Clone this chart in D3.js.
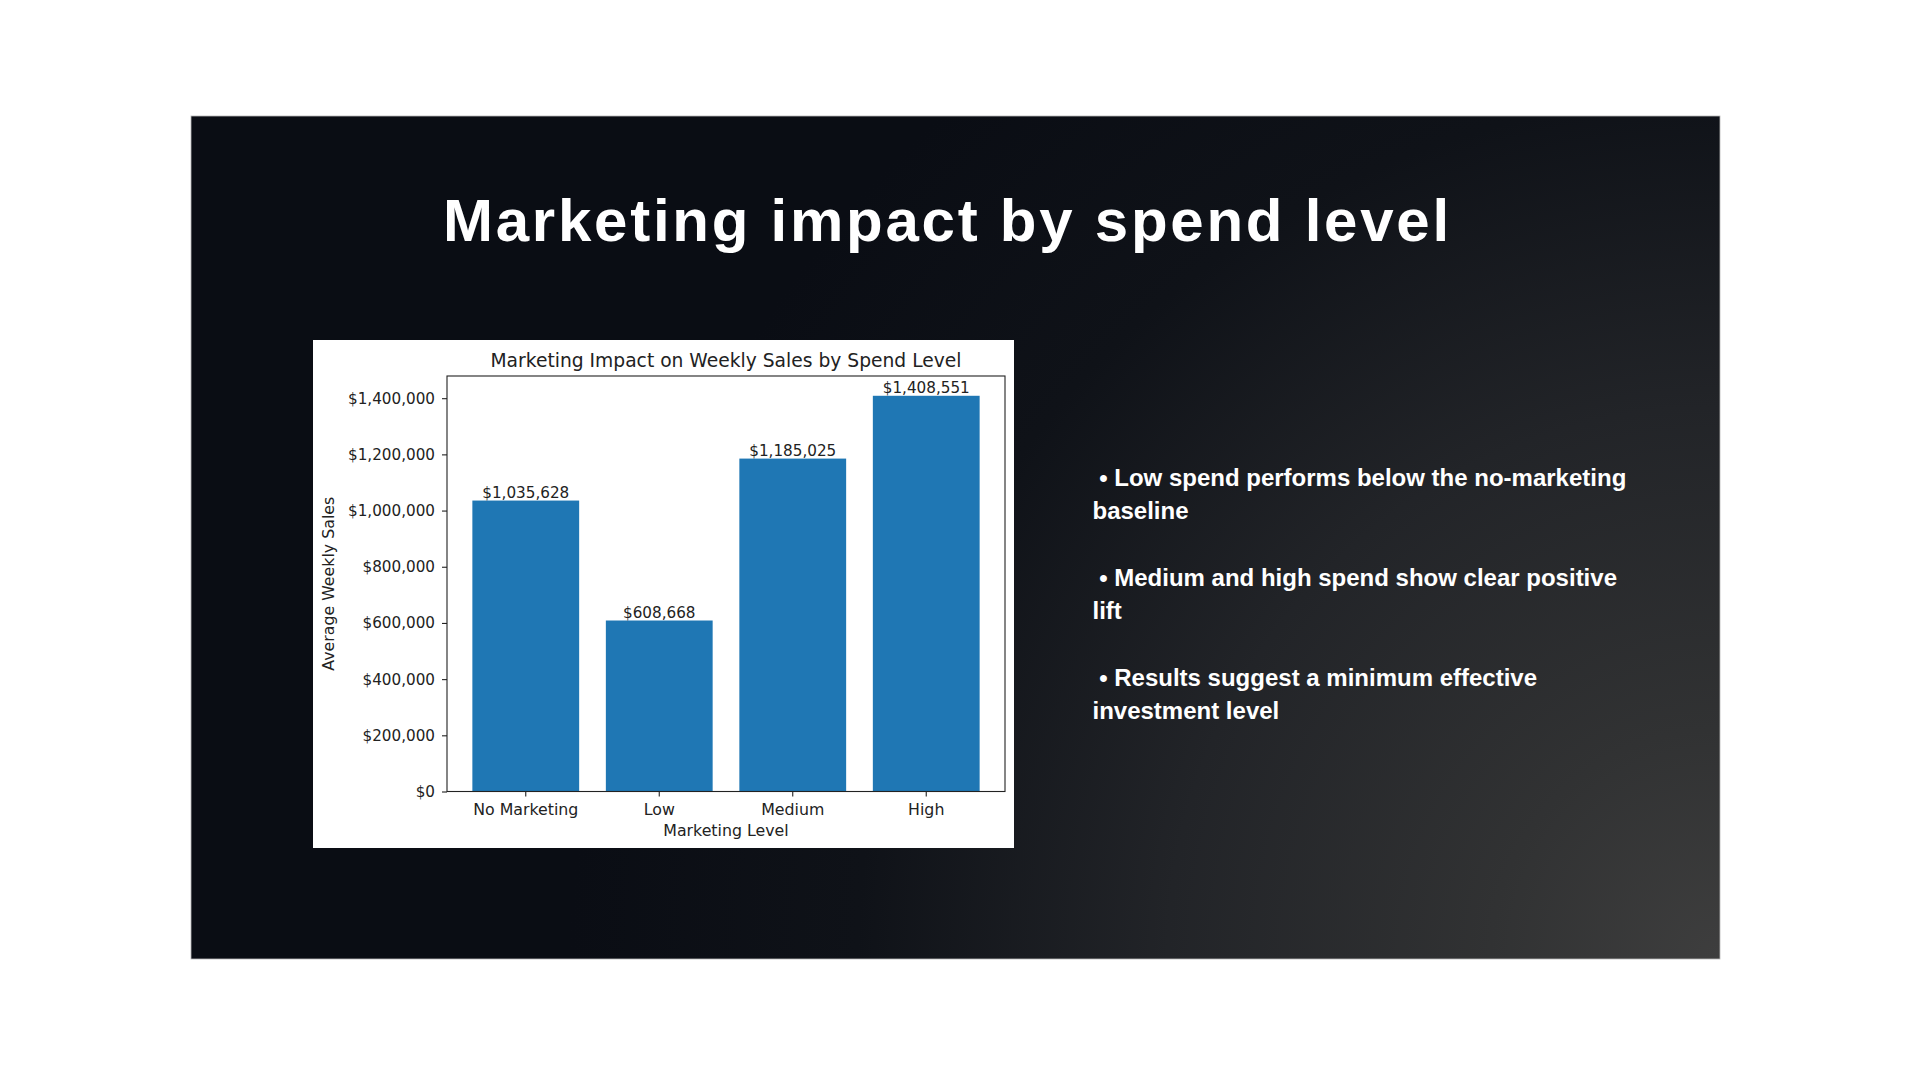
<!DOCTYPE html>
<html lang="en">
<head>
<meta charset="UTF-8">
<script src="https://d3js.org/d3.v7.min.js"></script>
<title>Marketing impact by spend level</title>
<style>
    body{
        margin: 0;
        background-color: white;
    }
    svg{
        display: block;
    }
    .slide-title{
        font-family: "Liberation Sans", Arial, sans-serif;
        font-weight: bold;
        font-size: 60px;
        letter-spacing: 2.75px;
        fill: white;
    }
    .bullet{
        font-family: "Liberation Sans", Arial, sans-serif;
        font-weight: bold;
        font-size: 24px;
        fill: white;
    }
    .mpl{
        font-family: "DejaVu Sans", sans-serif;
        fill: #222;
    }
</style>
</head>
<body>
<svg id="slide"></svg>
<script>
    // chart values
    const categories = ["No Marketing", "Low", "Medium", "High"];
    const avgSales = [1035628, 608668, 1185025, 1408551];
    const yTicks = [0, 200000, 400000, 600000, 800000, 1000000, 1200000, 1400000];

    // slide text
    const slideTitle = "Marketing impact by spend level";
    const bullets = [
        [" \u2022 Low spend performs below the no-marketing", "baseline"],
        [" \u2022 Medium and high spend show clear positive", "lift"],
        [" \u2022 Results suggest a minimum effective", "investment level"]
    ];

    const w = 1920;
    const h = 1080;

    const svg = d3.select("#slide").attr("width", w).attr("height", h);

    // dark panel with gradient
    const defs = svg.append("defs");
    const grad = defs.append("radialGradient")
        .attr("id", "panelGrad")
        .attr("gradientUnits", "userSpaceOnUse")
        .attr("cx", 1720).attr("cy", 959)
        .attr("r", 1150);
    grad.append("stop").attr("offset", "0%").attr("stop-color", "#3e3e3e");
    grad.append("stop").attr("offset", "20%").attr("stop-color", "#313233");
    grad.append("stop").attr("offset", "48%").attr("stop-color", "#222428");
    grad.append("stop").attr("offset", "75%").attr("stop-color", "#0f1218");
    grad.append("stop").attr("offset", "100%").attr("stop-color", "#0a0d14");

    svg.append("rect")
        .attr("x", 191).attr("y", 116)
        .attr("width", 1529).attr("height", 843)
        .attr("fill", "url(#panelGrad)")
        .attr("stroke", "#b8b8b8")
        .attr("stroke-width", 0.8);

    svg.append("text")
        .attr("class", "slide-title")
        .attr("x", 443)
        .attr("y", 240.5)
        .text(slideTitle);

    // bullets on the right
    bullets.forEach((lines, i) => {
        const t = svg.append("text")
            .attr("class", "bullet")
            .attr("x", 1092.5)
            .attr("y", 486 + i * 100)
            .attr("xml:space", "preserve");
        lines.forEach((line, j) => {
            t.append("tspan")
                .attr("x", 1092.5)
                .attr("dy", j == 0 ? 0 : 33)
                .text(line);
        });
    });

    // white chart card
    svg.append("rect")
        .attr("x", 313).attr("y", 340)
        .attr("width", 701).attr("height", 508)
        .attr("fill", "white");

    const plot = {left: 447, right: 1005, top: 376, bottom: 791.5};

    const xScale = d3.scaleBand()
        .domain(categories)
        .range([plot.left, plot.right])
        .paddingInner(0.2)
        .paddingOuter(0.19);

    const yScale = d3.scaleLinear()
        .domain([0, d3.max(avgSales) * 1.05])
        .range([plot.bottom, plot.top]);

    const money = (v) => "$" + d3.format(",")(v);

    svg.selectAll(".bar")
        .data(avgSales)
        .enter()
        .append("rect")
        .attr("class", "bar")
        .attr("x", (d, i) => xScale(categories[i]))
        .attr("y", (d) => yScale(d))
        .attr("width", xScale.bandwidth())
        .attr("height", (d) => yScale(0) - yScale(d))
        .attr("fill", "#1f77b4");

    svg.selectAll(".bar-label")
        .data(avgSales)
        .enter()
        .append("text")
        .attr("class", "mpl bar-label")
        .attr("x", (d, i) => xScale(categories[i]) + xScale.bandwidth() / 2)
        .attr("y", (d) => yScale(d) - 2.5)
        .style("text-anchor", "middle")
        .style("font-size", "15.2px")
        .text((d) => money(d));

    // axes
    const xAxis = d3.axisBottom(xScale).tickSize(5).tickPadding(4);
    const gx = svg.append("g")
        .attr("transform", "translate(0," + plot.bottom + ")")
        .call(xAxis);
    gx.select(".domain").remove();
    gx.selectAll("line").attr("stroke", "#222").attr("stroke-width", 1.1);
    gx.selectAll("text")
        .attr("class", "mpl")
        .attr("fill", null)
        .attr("dy", "0.92em")
        .style("font-size", "15.8px")
        .style("font-family", "DejaVu Sans");

    const yAxis = d3.axisLeft(yScale)
        .tickValues(yTicks)
        .tickFormat(money)
        .tickSize(5)
        .tickPadding(7);
    const gy = svg.append("g")
        .attr("transform", "translate(" + plot.left + ",0)")
        .call(yAxis);
    gy.select(".domain").remove();
    gy.selectAll("line").attr("stroke", "#222").attr("stroke-width", 1.1);
    gy.selectAll("text")
        .attr("class", "mpl")
        .attr("fill", null)
        .style("font-size", "15.2px")
        .style("font-family", "DejaVu Sans");

    // frame round the plot
    svg.append("rect")
        .attr("x", plot.left).attr("y", plot.top)
        .attr("width", plot.right - plot.left)
        .attr("height", plot.bottom - plot.top)
        .attr("fill", "none")
        .attr("stroke", "#222")
        .attr("stroke-width", 1.1);

    svg.append("text")
        .attr("class", "mpl")
        .attr("x", (plot.left + plot.right) / 2)
        .attr("y", 366.5)
        .style("text-anchor", "middle")
        .style("font-size", "18.7px")
        .text("Marketing Impact on Weekly Sales by Spend Level");

    svg.append("text")
        .attr("class", "mpl")
        .attr("x", (plot.left + plot.right) / 2)
        .attr("y", 836)
        .style("text-anchor", "middle")
        .style("font-size", "15.8px")
        .text("Marketing Level");

    svg.append("text")
        .attr("class", "mpl")
        .attr("transform", "translate(334," + ((plot.top + plot.bottom) / 2) + ") rotate(-90)")
        .style("text-anchor", "middle")
        .style("font-size", "15.8px")
        .text("Average Weekly Sales");
</script>
</body>
</html>
